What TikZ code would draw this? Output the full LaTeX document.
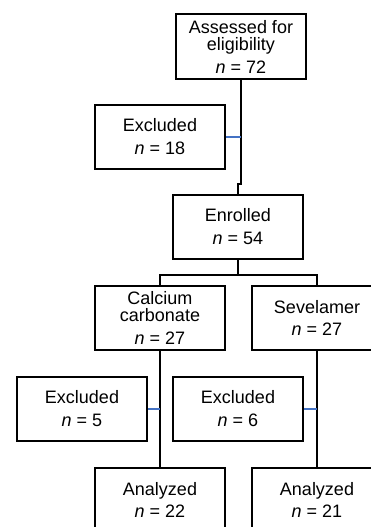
\documentclass[tikz,border=0pt]{standalone}
\usepackage{fontspec}
\setmainfont{Liberation Sans}
\usepackage{tikz}
\definecolor{sideblue}{RGB}{68,114,196}

\begin{document}
\begin{tikzpicture}[x=1pt, y=-1pt,
        box/.style={draw, line width=2pt, minimum width=130pt, minimum height=64pt,
            inner sep=0pt, align=center, font=\fontsize{18}{17}\selectfont},
        link/.style={line width=2pt},
        sidelink/.style={line width=2pt, sideblue}]
        \useasboundingbox (0,0) rectangle (370,527);

        \node[box, minimum height=65pt] (assess) at (241,46.5) {Assessed for\\eligibility\\[6pt]\textit{n} = 72};
        \node[box] (excl1) at (160,137) {Excluded\\[6pt]\textit{n} = 18};
        \node[box] (enroll) at (238,227) {Enrolled\\[6pt]\textit{n} = 54};
        \node[box] (calc) at (160,318) {Calcium\\carbonate\\[6pt]\textit{n} = 27};
        \node[box] (sevel) at (317,318) {Sevelamer\\[5pt]\textit{n} = 27};
        \node[box] (excl2) at (82,409) {Excluded\\[6pt]\textit{n} = 5};
        \node[box] (excl3) at (238,409) {Excluded\\[6pt]\textit{n} = 6};
        \node[box] (anal1) at (160,500) {Analyzed\\[5pt]\textit{n} = 22};
        \node[box] (anal2) at (317,500) {Analyzed\\[5pt]\textit{n} = 21};

        \draw[link] (assess.south) -- ++(0,104) coordinate (jog) -| (enroll.north);
        \draw[link] (enroll.south) -- ++(0,15) coordinate (split);
        \draw[link] (calc.north) |- (split) -| (sevel.north);
        \draw[link] (calc.south) -- (anal1.north);
        \draw[link] (sevel.south) -- (anal2.north);

        \draw[sidelink] (excl1.east) -- (excl1.east -| jog);
        \draw[sidelink] (excl2.east) -- (excl2.east -| calc.south);
        \draw[sidelink] (excl3.east) -- (excl3.east -| sevel.south);
\end{tikzpicture}
\end{document}
